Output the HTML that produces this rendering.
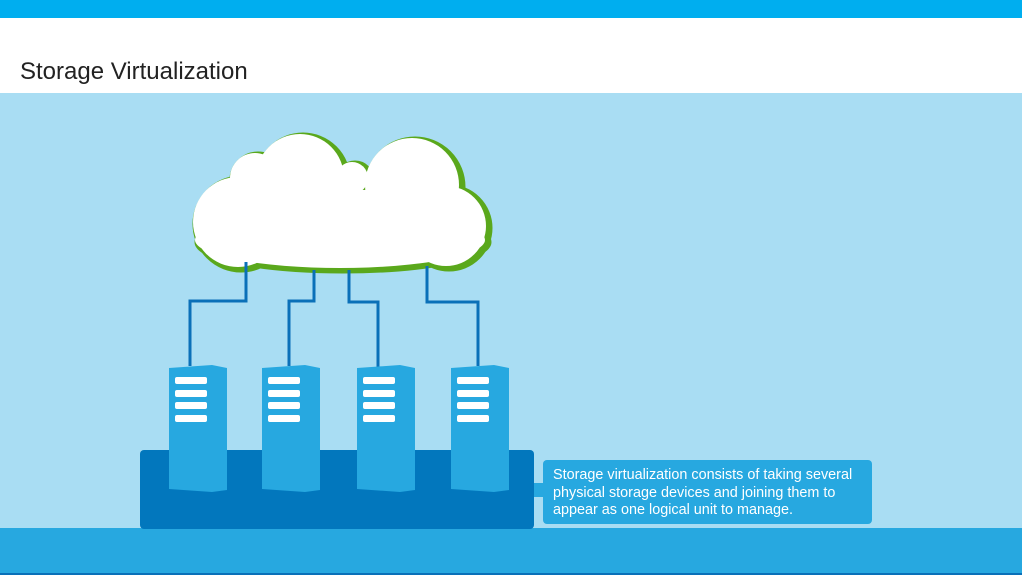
<!DOCTYPE html>
<html><head><style>
body{margin:0;width:1022px;height:575px;overflow:hidden;font-family:"Liberation Sans",sans-serif;position:relative;background:#a9ddf3}
.a{position:absolute}
</style></head><body>
<div class="a" style="left:0;top:0;width:1022px;height:18px;background:#00aeef"></div>
<div class="a" style="left:0;top:18px;width:1022px;height:75px;background:#fff"></div>
<div class="a" style="left:20px;top:58px;font-size:24px;color:#222">Storage Virtualization</div>
<div class="a" style="left:0;top:528px;width:1022px;height:47px;background:#27a8e0;border-bottom:2px solid #0a70b8;box-sizing:border-box"></div>
<div class="a" style="left:140px;top:450px;width:394px;height:79px;background:#0277bd;border-radius:4px"></div>
<div class="a" style="left:534px;top:483px;width:12px;height:14px;background:#27a8e0"></div>
<div class="a" style="left:543px;top:460px;width:329px;height:64px;background:#27a8e0;border-radius:4px"></div>
<div class="a" style="left:553px;top:467px;font-size:14.4px;line-height:17.5px;color:#fff">Storage virtualization consists of taking several<br>physical storage devices and joining them to<br>appear as one logical unit to manage.</div>
<svg class="a" style="left:0;top:0" width="1022" height="575">
<defs>
<g id="c">
<circle cx="238" cy="222" r="45"/><circle cx="255" cy="178" r="25"/><circle cx="300" cy="178" r="44"/><circle cx="352" cy="178" r="16"/><circle cx="412" cy="185" r="47"/><circle cx="446" cy="226" r="40"/><ellipse cx="340" cy="240" rx="145" ry="28"/><rect x="250" y="190" width="180" height="60"/>
</g>
</defs>
<use href="#c" fill="#5aa81c" stroke="#5aa81c" stroke-width="7" transform="translate(3,2)"/>
<use href="#c" fill="#fff"/>
<g fill="none" stroke="#0a70b8" stroke-width="3">
<polyline points="246,262 246,301 190,301 190,366"/>
<polyline points="314,270 314,301 289,301 289,366"/>
<polyline points="349,270 349,302 378,302 378,367"/>
<polyline points="427,266 427,302 478,302 478,366"/>
</g>
<g id="s">
<path d="M169,368 L212,365 L227,368 L227,490 L212,492 L169,489 Z" fill="#27a8e0"/>
<g fill="#fff"><rect x="175" y="377" width="32" height="7" rx="2"/><rect x="175" y="390" width="32" height="7" rx="2"/><rect x="175" y="402" width="32" height="7" rx="2"/><rect x="175" y="415" width="32" height="7" rx="2"/></g>
</g>
<use href="#s" x="93"/><use href="#s" x="188"/><use href="#s" x="282"/>
</svg>
</body></html>
